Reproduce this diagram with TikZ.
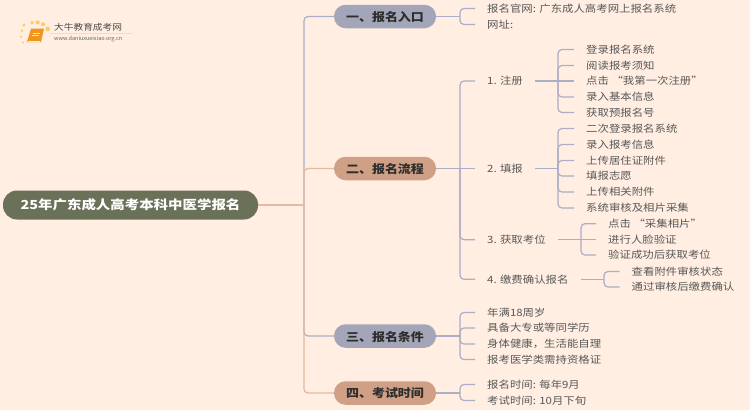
\documentclass[tikz,border=0pt]{standalone}
\usepackage{fontspec}
\setmainfont{Noto Sans CJK SC}
\newfontfamily\leaffont[FakeStretch=1.14]{Noto Sans CJK SC}
\newfontfamily\headfont[FakeStretch=1.12]{Noto Sans CJK SC}
\newfontfamily\rootfont[FakeStretch=1.16]{Noto Sans CJK SC}
\usetikzlibrary{positioning,calc}
\definecolor{pagepeach}{RGB}{255,238,225}
\definecolor{rootgreen}{RGB}{107,113,88}
\definecolor{stageblue}{RGB}{163,165,184}
\definecolor{stagebrown}{RGB}{207,160,133}
\definecolor{linkblue}{RGB}{170,174,198}
\definecolor{linkbrown}{RGB}{228,186,160}
\definecolor{inkgray}{RGB}{88,88,88}
\definecolor{stageink}{RGB}{45,45,45}
\definecolor{bookorange}{RGB}{240,150,30}
\definecolor{dotyellow}{RGB}{250,205,95}

\begin{document}
\begin{tikzpicture}[
  x=1pt, y=-1pt,
  root/.style={fill=rootgreen, rounded corners=14pt, minimum width=255pt,
               minimum height=29pt, inner sep=0pt, text=white,
               font=\rootfont\fontsize{12.45}{14}\selectfont\bfseries},
  stage/.style={rounded corners=11.5pt, minimum width=102pt,
                minimum height=23.5pt, inner sep=0pt, text=stageink, text depth=0pt,
                font=\headfont\fontsize{11.6}{14}\selectfont\bfseries},
  stageb/.style={stage, fill=stageblue},
  stagec/.style={stage, fill=stagebrown},
  leaf/.style={anchor=west, inner xsep=12pt, inner ysep=1pt, text=inkgray,
               font=\leaffont\fontsize{10}{12}\selectfont},
  link/.style={draw=linkblue, line width=1.2pt, rounded corners=4pt},
  linkb/.style={draw=linkbrown, line width=1.3pt, rounded corners=4pt}
]
\useasboundingbox[fill=pagepeach] (0,0) rectangle (750,410);

% logo
\fill[bookorange] (27,42) -- (31,28.5) -- (44,28.5) -- (41,42) -- cycle;
\fill[white!80!bookorange] (28.5,41) -- (40,41) -- (39.7,42.4) -- (27.5,42.4) -- cycle;
\draw[white!70!bookorange, line width=.8pt] (33,33) -- (40,33) (32.4,35.5) -- (39.4,35.5);
\foreach \px/\py/\pr in {23/42.5/1, 21/36.7/1.1, 22/30.7/1.3, 24/25/1.7, 32/22.7/1.9, 37.7/22.3/2, 43/24.3/2, 47.7/29/2.3}
  \fill[dotyellow] (\px,\py) circle (\pr);
\node[anchor=west, inner sep=0pt, text=black!70, font=\leaffont\fontsize{8.5}{10}\selectfont] (logoname) at (54,27) {大牛教育成考网};
\draw[black!12, line width=.5pt] (50,33.3) -- (132,33.3);
\node[anchor=west, inner sep=0pt, text=black!60, font=\fontsize{5.5}{7}\selectfont] (logourl) at (54,38.5) {www.daniuxueixiao.org.cn};

\node[root] (title) at (130.5,205) {25年广东成人高考本科中医学报名};

\node[stageb] (entry) at (385,16.5) {一、报名入口};
\node[stagec] (process) at (385,168.5) {二、报名流程};
\node[stageb] (require) at (385,336) {三、报名条件};
\node[stagec] (examtime) at (385,393) {四、考试时间};

\node[leaf] (site) at (475,8.5) {报名官网: 广东成人高考网上报名系统};
\node[leaf] (url) at (475,24.5) {网址:};

\node[leaf] (signup) at (475,81) {1. 注册};
\node[leaf] (fill) at (475,168.5) {2. 填报};
\node[leaf] (seat) at (475,239.7) {3. 获取考位};
\node[leaf] (pay) at (475,279.3) {4. 缴费确认报名};

\node[leaf] (signupa) at (574,49.5) {登录报名系统};
\node[leaf] (signupb) at (574,65.5) {阅读报考须知};
\node[leaf] (signupc) at (574,81) {点击 “我第一次注册”};
\node[leaf] (signupd) at (574,97) {录入基本信息};
\node[leaf] (signupe) at (574,112.5) {获取预报名号};

\node[leaf] (filla) at (574,128.5) {二次登录报名系统};
\node[leaf] (fillb) at (574,144.5) {录入报考信息};
\node[leaf] (fillc) at (574,160.5) {上传居住证附件};
\node[leaf] (filld) at (574,176) {填报志愿};
\node[leaf] (fille) at (574,192) {上传相关附件};
\node[leaf] (fillf) at (574,208) {系统审核及相片采集};

\node[leaf] (seata) at (596,223.7) {点击 “采集相片”};
\node[leaf] (seatb) at (596,239.7) {进行人脸验证};
\node[leaf] (seatc) at (596,255) {验证成功后获取考位};

\node[leaf] (paya) at (619.5,271.5) {查看附件审核状态};
\node[leaf] (payb) at (619.5,287) {通过审核后缴费确认};

\node[leaf] (reqa) at (475,312.5) {年满18周岁};
\node[leaf] (reqb) at (475,328) {具备大专或等同学历};
\node[leaf] (reqc) at (475,344) {身体健康，生活能自理};
\node[leaf] (reqd) at (475,359.5) {报考医学类需持资格证};

\node[leaf] (timea) at (475,384.5) {报名时间: 每年9月};
\node[leaf] (timeb) at (475,400.5) {考试时间: 10月下旬};

\coordinate (trunk) at (304,205);
\coordinate (entryfork) at (460,16.5);
\coordinate (requirefork) at (460,336);
\coordinate (timefork) at (460,393);
\coordinate (processfork) at (460,168.5);
\coordinate (signupfork) at (558,81);
\coordinate (fillfork) at (558,168.5);
\coordinate (seatfork) at (581,239.7);
\coordinate (payfork) at (604,279.3);

\draw[link] (trunk) |- (entry.west);
\draw[link] (trunk) |- (require.west);
\draw[linkb] (trunk) |- (process.west);
\draw[linkb] (trunk) |- (examtime.west);
\draw[linkb] (title.east) -- (trunk);

\draw[link] (entry.east) -- (entryfork);
\draw[link] (entryfork) |- (site.west);
\draw[link] (entryfork) |- (url.west);

\draw[link] (process.east) -- (fill.west);
\draw[link] (processfork) |- (signup.west);
\draw[link] (processfork) |- (seat.west);
\draw[link] (processfork) |- (pay.west);

\draw[link] (signup.east) -- (signupc.west);
\draw[link] (signupfork) |- (signupa.west);
\draw[link] (signupfork) |- (signupb.west);
\draw[link] (signupfork) |- (signupd.west);
\draw[link] (signupfork) |- (signupe.west);

\draw[link] (fill.east) -- (fillfork);
\draw[link] (fillfork) |- (filla.west);
\draw[link] (fillfork) |- (fillb.west);
\draw[link] (fillfork) |- (fillc.west);
\draw[link] (fillfork) |- (filld.west);
\draw[link] (fillfork) |- (fille.west);
\draw[link] (fillfork) |- (fillf.west);

\draw[link] (seat.east) -- (seatb.west);
\draw[link] (seatfork) |- (seata.west);
\draw[link] (seatfork) |- (seatc.west);

\draw[link] (pay.east) -- (payfork);
\draw[link] (payfork) |- (paya.west);
\draw[link] (payfork) |- (payb.west);

\draw[link] (require.east) -- (requirefork);
\draw[link] (requirefork) |- (reqa.west);
\draw[link] (requirefork) |- (reqb.west);
\draw[link] (requirefork) |- (reqc.west);
\draw[link] (requirefork) |- (reqd.west);

\draw[link] (examtime.east) -- (timefork);
\draw[link] (timefork) |- (timea.west);
\draw[link] (timefork) |- (timeb.west);
\end{tikzpicture}
\end{document}
